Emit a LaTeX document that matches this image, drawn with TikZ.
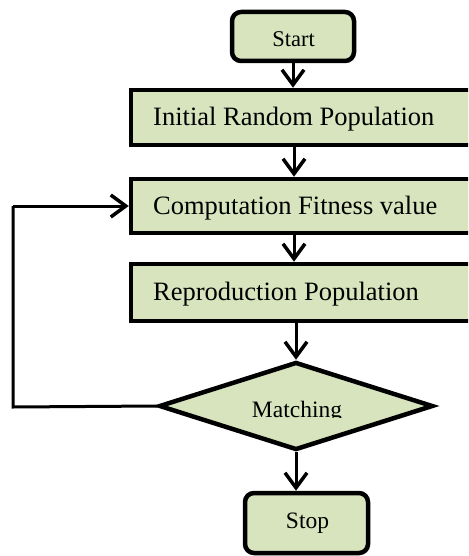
\documentclass[tikz,border=0pt]{standalone}
\usepackage{fontspec}
\setmainfont{Liberation Serif}
\usetikzlibrary{arrows.meta,shapes.geometric,shadows}
\definecolor{boxfill}{HTML}{D7E4BD}
\begin{document}
\begin{tikzpicture}[x=1pt,y=-1pt,
  box/.style={draw=black, line width=4.5pt, fill=boxfill, inner sep=0pt,
    drop shadow={opacity=0.25, shadow xshift=2pt, shadow yshift=-2pt}},
  rbox/.style={box, rounded corners=9pt},
  dbox/.style={box, diamond},
  lbl/.style={inner sep=0pt, font=\fontsize{26.5}{30}\selectfont},
  slbl/.style={inner sep=0pt, font=\fontsize{22.5}{26}\selectfont},
  arr/.style={line width=3pt, -{Straight Barb[length=15pt,width=22pt,line width=3.5pt]}},
  loopline/.style={line width=3pt}]
\useasboundingbox (0,0) rectangle (468,556);
\clip (0,0) rectangle (468,556);
% boxes
\node[rbox, minimum width=122pt, minimum height=49pt] (start) at (293,36.5) {};
\node[box, minimum width=349pt, minimum height=55pt] (init) at (305.5,117.5) {};
\node[box, minimum width=349pt, minimum height=54pt] (comp) at (305.5,206) {};
\node[box, minimum width=349pt, minimum height=57pt] (repr) at (305.5,292.5) {};
\node[dbox, minimum width=274pt, minimum height=88pt] (match) at (296,406) {};
\node[rbox, minimum width=123pt, minimum height=60pt] (stop) at (306.5,523) {};
% texts
\node[slbl, anchor=base] (tstart) at (293.5,47) {Start};
\node[lbl, anchor=base west] (tinit) at (153,126) {Initial Random Population};
\node[lbl, anchor=base west] (tcomp) at (153,214) {Computation Fitness value};
\node[lbl, anchor=base west] (trepr) at (153,300) {Reproduction Population};
\begin{scope}
  \clip (200,380) rectangle (400,417);
  \node[font=\fontsize{23.5}{27}\selectfont, inner sep=0pt, anchor=base] (tmatch) at (297,417.5) {Matching};
\end{scope}
\node[font=\fontsize{23.5}{27}\selectfont, inner sep=0pt, anchor=base] (tstop) at (307.5,528) {Stop};
% connectors
\coordinate (ax) at (294,0);
\draw[arr] (start.south) -- (start.south |- init.north);
\draw[arr] (ax |- init.south) -- (ax |- comp.north);
\draw[arr] (ax |- comp.south) -- (ax |- repr.north);
\draw[arr] (match.north |- repr.south) -- (match.north);
\draw[arr] (match.south) -- (match.south |- stop.north);
\coordinate (lb) at (13,407);
\coordinate (lt) at (13,206);
\draw[loopline, line join=miter] (match.west) -- (lb) -- (lt);
\draw[arr] (lt) -- (comp.west);
\end{tikzpicture}
\end{document}
